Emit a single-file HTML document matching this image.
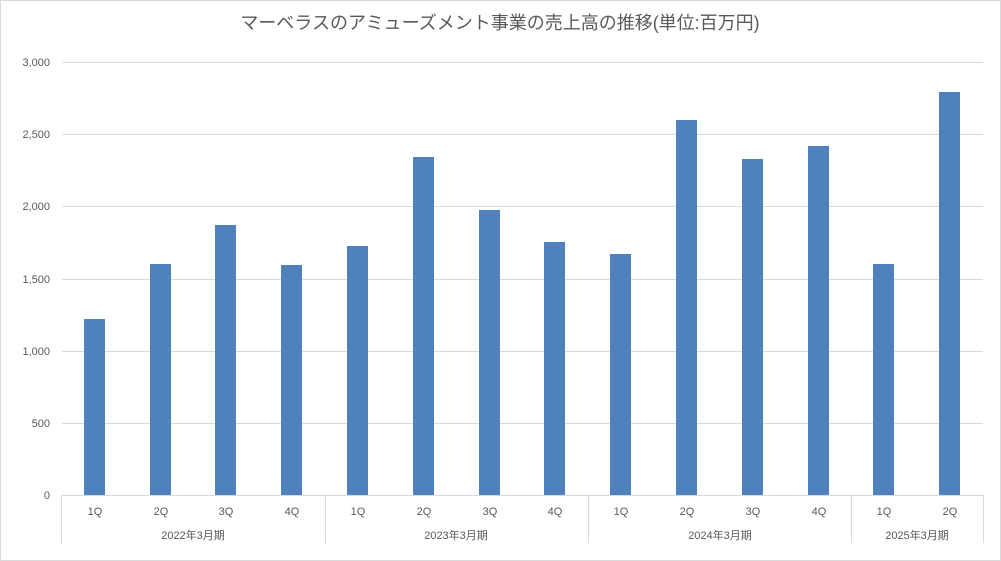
<!DOCTYPE html>
<html><head><meta charset="utf-8"><style>
html,body{margin:0;padding:0;background:#fff}
svg{display:block;font-family:"Liberation Sans","Noto Sans CJK JP",sans-serif}
</style></head><body>
<svg width="1001" height="561" xmlns="http://www.w3.org/2000/svg">
<rect x="0.5" y="0.5" width="1000" height="560" fill="#fff" stroke="#d9d9d9"/>
<text x="500" y="29" text-anchor="middle" font-size="18" fill="#595959">マーベラスのアミューズメント事業の売上高の推移(単位:百万円)</text>
<g stroke="#d9d9d9" stroke-width="1">
<line x1="62" x2="983" y1="62.5" y2="62.5"/>
<line x1="62" x2="983" y1="134.5" y2="134.5"/>
<line x1="62" x2="983" y1="206.5" y2="206.5"/>
<line x1="62" x2="983" y1="279.5" y2="279.5"/>
<line x1="62" x2="983" y1="351.5" y2="351.5"/>
<line x1="62" x2="983" y1="423.5" y2="423.5"/>
<line x1="62" x2="983" y1="495.5" y2="495.5"/>
<line x1="61.5" x2="61.5" y1="495" y2="543"/>
<line x1="325.5" x2="325.5" y1="495" y2="543"/>
<line x1="588.5" x2="588.5" y1="495" y2="543"/>
<line x1="851.5" x2="851.5" y1="495" y2="543"/>
<line x1="983.5" x2="983.5" y1="495" y2="543"/>
</g>
<g font-size="11" fill="#595959" text-anchor="end">
<text x="50" y="66">3,000</text><text x="50" y="138">2,500</text><text x="50" y="210">2,000</text>
<text x="50" y="283">1,500</text><text x="50" y="355">1,000</text><text x="50" y="427">500</text><text x="50" y="499">0</text>
</g>
<g fill="#4f81bd">
<rect x="84" y="319" width="21" height="176"/>
<rect x="150" y="264" width="21" height="231"/>
<rect x="215" y="225" width="21" height="270"/>
<rect x="281" y="265" width="21" height="230"/>
<rect x="347" y="246" width="21" height="249"/>
<rect x="413" y="157" width="21" height="338"/>
<rect x="479" y="210" width="21" height="285"/>
<rect x="544" y="242" width="21" height="253"/>
<rect x="610" y="254" width="21" height="241"/>
<rect x="676" y="120" width="21" height="375"/>
<rect x="742" y="159" width="21" height="336"/>
<rect x="808" y="146" width="21" height="349"/>
<rect x="873" y="264" width="21" height="231"/>
<rect x="939" y="92" width="21" height="403"/>
</g>
<g font-size="11" fill="#595959" text-anchor="middle">
<text x="95" y="515">1Q</text><text x="161" y="515">2Q</text><text x="226" y="515">3Q</text><text x="292" y="515">4Q</text>
<text x="358" y="515">1Q</text><text x="424" y="515">2Q</text><text x="490" y="515">3Q</text><text x="555" y="515">4Q</text>
<text x="621" y="515">1Q</text><text x="687" y="515">2Q</text><text x="753" y="515">3Q</text><text x="819" y="515">4Q</text>
<text x="884" y="515">1Q</text><text x="950" y="515">2Q</text>
<text x="193" y="539">2022年3月期</text><text x="456" y="539">2023年3月期</text>
<text x="720" y="539">2024年3月期</text><text x="917" y="539">2025年3月期</text>
</g>
</svg>
</body></html>
